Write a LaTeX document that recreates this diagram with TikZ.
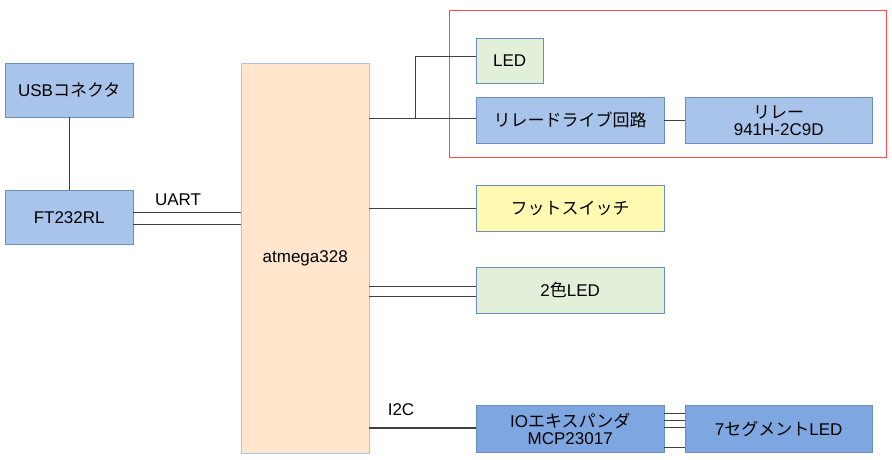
\documentclass[tikz,border=0pt]{standalone}
\usepackage{fontspec}
\setmainfont{Liberation Sans}
\newfontfamily\cjk{Noto Sans CJK JP}
\usetikzlibrary{positioning}
\definecolor{blk}{RGB}{169,196,235}
\definecolor{blkline}{RGB}{108,142,191}
\definecolor{dblk}{RGB}{126,166,224}
\definecolor{peach}{RGB}{255,230,204}
\definecolor{grn}{RGB}{226,239,217}
\definecolor{ylw}{RGB}{255,249,178}
\tikzset{
  box/.style={draw=blkline,fill=blk,inner sep=0pt,anchor=north west,align=center,font=\fontsize{17}{19}\selectfont},
  wire/.style={draw=black!75,line width=0.8pt},
}
\begin{document}
\begin{tikzpicture}[x=1pt,y=-1pt]
\useasboundingbox (0,0) rectangle (892,459);
% group of the relay
\draw[red!70] (449,10) rectangle (886,157);
% blocks
\node[box,minimum width=128,minimum height=54] (usb) at (5,63) {USB{\cjk コネクタ}};
\node[box,minimum width=128,minimum height=54] (ft) at (5,190) {FT232RL};
\node[box,fill=peach,draw=blk,minimum width=128,minimum height=390] (mcu) at (241,63) {atmega328};
\node[box,fill=grn,minimum width=67,minimum height=45] (led) at (476,38) {LED};
\node[box,minimum width=188,minimum height=46] (drv) at (476,97) {\cjk リレードライブ回路};
\node[box,minimum width=187,minimum height=46] (rly) at (685,97) {{\cjk リレー}\\[-2pt]941H-2C9D};
\node[box,fill=ylw,minimum width=188,minimum height=46] (sw) at (476,185) {\cjk フットスイッチ};
\node[box,fill=grn,minimum width=188,minimum height=46] (led2) at (476,267) {2{\cjk 色}LED};
\node[box,fill=dblk,minimum width=188,minimum height=47] (io) at (476,405) {IO{\cjk エキスパンダ}\\[-2pt]MCP23017};
\node[box,fill=dblk,minimum width=187,minimum height=47] (seg) at (685,405) {7{\cjk セグメント}LED};
% wires
\draw[wire] (usb) -- (ft);
\foreach \y in {212,224}
  \draw[wire] (ft.east |- 0,\y) -- (mcu.west |- 0,\y);
\node[font=\fontsize{17}{19}\selectfont] (uart) at (178,200) {UART};
\coordinate (br) at (415,118);
\draw[wire] (mcu.east |- br) -- (drv.west |- br);
\draw[wire] (br) -- (415,56) -- (led.west |- 0,56);
\draw[wire] (drv) -- (rly);
\draw[wire] (mcu.east |- sw) -- (sw.west);
\foreach \y in {286,296}
  \draw[wire] (mcu.east |- 0,\y) -- (led2.west |- 0,\y);
\draw[wire,line width=1.4pt] (mcu.east |- 0,428) -- (io.west |- 0,428);
\node[font=\fontsize{17}{19}\selectfont] (i2c) at (401,410) {I2C};
\foreach \y in {413,420,427,447}
  \draw[wire] (io.east |- 0,\y) -- (seg.west |- 0,\y);
\end{tikzpicture}
\end{document}
